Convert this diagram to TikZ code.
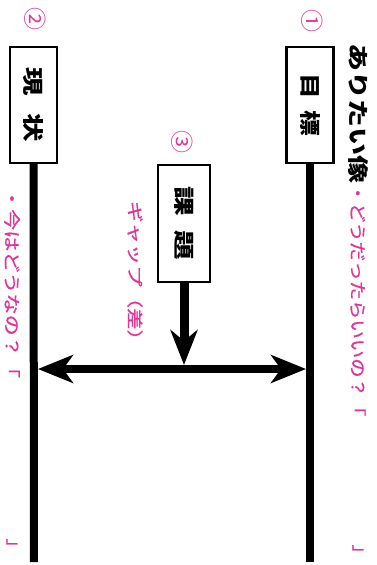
\documentclass[tikz,border=0pt]{standalone}
\usepackage{fontspec}
\usepackage{graphicx}
\usetikzlibrary{arrows.meta}
\newfontfamily\jp{Noto Sans CJK JP}
\newfontfamily\jpm[FakeBold=0.6]{Noto Sans CJK JP}
\definecolor{pinkc}{RGB}{228,50,150}
\newcommand\fitw[2]{\resizebox{#1}{\height}{#2}}
\tikzset{
  vtext/.style={rotate=-90, inner sep=0pt, outer sep=0pt, font=\jp},
  pinktext/.style={vtext, text=pinkc},
  numtext/.style={vtext, text=pinkc, font=\jp\fontsize{23pt}{23pt}\selectfont},
  boxnode/.style={rotate=-90, draw, line width=2.6pt, inner sep=0pt, outer sep=0pt,
    minimum width=116pt, minimum height=47pt, font=\jp\bfseries\fontsize{21pt}{21pt}\selectfont},
  pole/.style={line width=8pt},
  bigtip/.tip={Stealth[length=35pt, width=28pt, inset=10pt]},
  hsarrow/.style={line width=8pt, bigtip-bigtip},
  vsarrow/.style={line width=9pt, -{Stealth[length=35pt, width=27pt, inset=11pt]}},
}
\begin{document}
\begin{tikzpicture}[x=1pt, y=-1pt]
  \fill[white] (0,0) rectangle (377,565);
  \useasboundingbox (0,0) rectangle (377,565);

  % boxes
  \node[boxnode] (goal) at (310,105) {\fitw{63pt}{目\hspace{0.45em}標}};
  \node[boxnode] (cur) at (33.5,105) {\fitw{74pt}{現\hspace{0.6em}状}};
  \node[boxnode, minimum width=117pt, minimum height=52pt] (task) at (184,223.5) {\fitw{74pt}{課\hspace{0.5em}題}};

  % circled numbers
  \node[numtext] (n1) at (312,21) {①};
  \node[numtext] (n2) at (35,19) {②};
  \node[numtext] (n3) at (182,142) {③};

  % poles
  \coordinate (goalend) at (310,562);
  \coordinate (curend) at (34,562);
  \draw[pole] (goal.east) -- (goalend);
  \draw[pole] (cur.east) -- (curend);

  % gap arrows
  \coordinate (hl) at (38,369);
  \coordinate (hr) at (306,369);
  \coordinate (taskhit) at (184,365);
  \draw[hsarrow] (hl) -- (hr);
  \draw[vsarrow] (task.east) -- (taskhit);

  % texts
  \node[vtext, font=\jp\bfseries\fontsize{21pt}{21pt}\selectfont] (ideal) at (358,113) {\fitw{140pt}{ありたい像}};
  \node[pinktext, font=\jpm\fontsize{17pt}{17pt}\selectfont] (q1) at (358,300) {\fitw{233pt}{・どうだったらいいの？「}};
  \node[pinktext, font=\jpm\fontsize{17pt}{17pt}\selectfont] (q1e) at (358,553) {」};
  \node[pinktext, font=\jpm\fontsize{17pt}{17pt}\selectfont] (q2) at (12,283) {\fitw{190pt}{・今はどうなの？「}};
  \node[pinktext, font=\jpm\fontsize{17pt}{17pt}\selectfont] (q2e) at (12,547) {」};
  \node[pinktext, font=\jpm\fontsize{16pt}{16pt}\selectfont] (gap) at (135,276) {\fitw{150pt}{ギャップ（差）}};
\end{tikzpicture}
\end{document}
